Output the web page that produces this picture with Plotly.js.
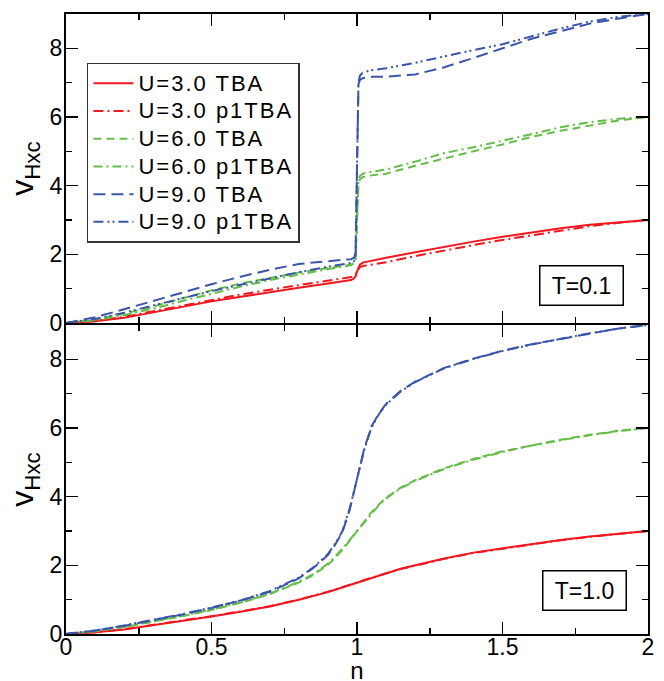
<!DOCTYPE html>
<html>
<head>
<meta charset="utf-8">
<script src="https://cdn.plot.ly/plotly-3.0.1.min.js"></script>
<style>
html,body{margin:0;padding:0;background:#fff;}
.legendtext{font-size:22px !important; letter-spacing:2px;}
.g-xtitle text{transform:translateY(3px);}
</style>
</head>
<body>
<div id="chart" style="width:664px;height:681px;"></div>
<script>
// ---- T = 0.1 (top panel) ----
const nTop = [0,0.1,0.2,0.3,0.4,0.5,0.6,0.7,0.8,0.9,0.95,0.98,0.99,0.995,1.0,1.005,1.01,1.02,1.05,1.1,1.2,1.3,1.4,1.5,1.6,1.7,1.8,1.9,2.0];
const top_U3_TBA   = [0,0.05,0.15,0.3,0.47,0.63,0.77,0.9,1.03,1.15,1.2,1.25,1.3,1.36,1.5,1.63,1.7,1.76,1.82,1.9,2.06,2.22,2.37,2.51,2.64,2.76,2.86,2.94,3.0];
const top_U3_p1TBA = [0,0.06,0.18,0.34,0.52,0.68,0.83,0.97,1.1,1.24,1.3,1.34,1.37,1.41,1.5,1.59,1.63,1.66,1.7,1.77,1.95,2.12,2.27,2.42,2.56,2.7,2.82,2.92,3.0];
const top_U6_TBA   = [0,0.1,0.27,0.48,0.72,0.95,1.15,1.32,1.47,1.6,1.66,1.7,1.75,1.85,3.0,4.05,4.18,4.25,4.3,4.35,4.58,4.8,5.0,5.2,5.42,5.6,5.76,5.9,6.0];
const top_U6_p1TBA = [0,0.08,0.23,0.42,0.64,0.86,1.06,1.25,1.42,1.57,1.64,1.69,1.74,1.85,3.0,4.15,4.28,4.35,4.4,4.47,4.7,4.95,5.12,5.3,5.5,5.7,5.85,5.95,6.0];
const top_U9_TBA   = [0,0.17,0.4,0.65,0.9,1.13,1.35,1.55,1.72,1.81,1.84,1.86,1.9,2.05,4.5,6.95,7.08,7.13,7.17,7.17,7.24,7.45,7.72,8.0,8.28,8.5,8.72,8.87,9.0];
const top_U9_p1TBA = [0,0.12,0.3,0.5,0.72,0.93,1.12,1.3,1.48,1.64,1.7,1.75,1.8,1.95,4.5,7.0,7.2,7.3,7.36,7.42,7.58,7.77,7.95,8.12,8.35,8.58,8.78,8.92,9.0];

// ---- T = 1.0 (bottom panel) ----
const nBot = [0,0.1,0.2,0.3,0.4,0.5,0.6,0.7,0.8,0.85,0.9,0.925,0.95,0.975,1.0,1.025,1.05,1.075,1.1,1.15,1.2,1.3,1.4,1.5,1.6,1.7,1.8,1.9,2.0];
const bot_U3_TBA   = [0,0.05,0.13,0.25,0.38,0.51,0.65,0.8,1.0,1.1,1.22,1.29,1.36,1.43,1.5,1.57,1.64,1.71,1.78,1.9,2.0,2.2,2.37,2.5,2.62,2.74,2.84,2.93,3.0];
const bot_U3_p1TBA = [0,0.05,0.14,0.26,0.39,0.52,0.66,0.81,1.0,1.11,1.23,1.3,1.37,1.44,1.5,1.56,1.63,1.7,1.77,1.89,1.99,2.19,2.36,2.49,2.61,2.73,2.83,2.92,3.0];
const bot_U6_TBA   = [0,0.08,0.2,0.35,0.52,0.7,0.91,1.16,1.5,1.72,2.02,2.22,2.45,2.72,3.0,3.28,3.55,3.77,3.97,4.26,4.48,4.83,5.1,5.32,5.5,5.66,5.8,5.92,6.0];
const bot_U6_p1TBA = [0,0.08,0.21,0.36,0.53,0.71,0.92,1.17,1.52,1.74,2.05,2.25,2.48,2.74,3.0,3.26,3.52,3.75,3.95,4.24,4.46,4.81,5.08,5.3,5.49,5.65,5.79,5.91,6.0];
const bot_U9_TBA   = [0,0.1,0.24,0.4,0.57,0.76,0.97,1.23,1.62,1.92,2.3,2.6,2.97,3.62,4.5,5.4,6.05,6.42,6.7,7.08,7.35,7.75,8.02,8.25,8.44,8.6,8.76,8.9,9.0];
const bot_U9_p1TBA = [0,0.1,0.25,0.41,0.58,0.77,0.98,1.25,1.64,1.94,2.33,2.63,3.0,3.66,4.5,5.37,6.02,6.4,6.68,7.06,7.34,7.74,8.01,8.24,8.43,8.6,8.76,8.9,9.0];

const seriesNames = ['U=3.0 TBA','U=3.0 p1TBA','U=6.0 TBA','U=6.0 p1TBA','U=9.0 TBA','U=9.0 p1TBA'];
const panelLabels = ['T=0.1','T=1.0'];

const RED = '#f2161e', GREEN = '#64bd46', BLUE = '#3a55aa';
const styles = [
  {color: RED,   dash: 'solid'},
  {color: RED,   dash: '10px,4px,2px,4px'},
  {color: GREEN, dash: '8px,5px'},
  {color: GREEN, dash: '9px,4px,2px,4px'},
  {color: BLUE,  dash: '12px,6px'},
  {color: BLUE,  dash: '10px,4px,2px,3px,2px,4px'}
];
const topData = [top_U3_TBA, top_U3_p1TBA, top_U6_TBA, top_U6_p1TBA, top_U9_TBA, top_U9_p1TBA];
const botData = [bot_U3_TBA, bot_U3_p1TBA, bot_U6_TBA, bot_U6_p1TBA, bot_U9_TBA, bot_U9_p1TBA];

const traces = [];
topData.forEach((ys, i) => {
  traces.push({x: nTop, y: ys, xaxis: 'x2', yaxis: 'y2', mode: 'lines', name: seriesNames[i],
    line: {color: styles[i].color, dash: styles[i].dash, width: 2}, showlegend: true});
});
botData.forEach((ys, i) => {
  traces.push({x: nBot, y: ys, xaxis: 'x', yaxis: 'y', mode: 'lines', name: seriesNames[i],
    line: {color: styles[i].color, dash: styles[i].dash, width: 2}, showlegend: false});
});

const FONT = 'Liberation Sans, Arial, Helvetica, sans-serif';
const axisCommon = {
  showline: true, linecolor: '#000', linewidth: 2, mirror: 'ticks',
  ticks: 'inside', ticklen: 12, tickwidth: 1.5, tickcolor: '#000',
  showgrid: false, zeroline: false,
  tickfont: {family: FONT, size: 23, color: '#000'}
};
const minorX = {tickvals: [0.25, 0.75, 1.25, 1.75], ticks: 'inside', ticklen: 6, tickwidth: 1.5, tickcolor: '#000'};
const minorY = {tickvals: [1, 3, 5, 7], ticks: 'inside', ticklen: 6, tickwidth: 1.5, tickcolor: '#000'};

const layout = {
  width: 664, height: 681,
  margin: {l: 66, r: 16, t: 14, b: 47},
  paper_bgcolor: '#fff', plot_bgcolor: '#fff',
  font: {family: FONT, color: '#000'},
  showlegend: true,
  legend: {
    x: 0.036, y: 0.921, xanchor: 'left', yanchor: 'top',
    bgcolor: '#fff', bordercolor: '#333', borderwidth: 1.5,
    font: {family: FONT, size: 19, color: '#000'},
    itemwidth: 40, tracegroupgap: 0
  },
  xaxis: Object.assign({}, axisCommon, {
    domain: [0, 1], anchor: 'y', range: [0, 2], tickvals: [0, 0.5, 1, 1.5, 2],
    ticktext: ['0', '0.5', '1', '1.5', '2'],
    minor: minorX, ticklabelstandoff: -9,
    title: {text: 'n', font: {family: FONT, size: 24}, standoff: 10}
  }),
  yaxis: Object.assign({}, axisCommon, {
    domain: [0, 0.4984], anchor: 'x', range: [0, 9], tickvals: [0, 2, 4, 6, 8],
    minor: minorY, ticklabelstandoff: -3,
    title: {text: 'v<sub>Hxc</sub>', font: {family: FONT, size: 32}, standoff: 6}
  }),
  xaxis2: Object.assign({}, axisCommon, {
    domain: [0, 1], anchor: 'y2', range: [0, 2], tickvals: [0, 0.5, 1, 1.5, 2],
    showticklabels: false, minor: minorX
  }),
  yaxis2: Object.assign({}, axisCommon, {
    domain: [0.5016, 1], anchor: 'x2', range: [0, 9], tickvals: [0, 2, 4, 6, 8],
    minor: minorY, ticklabelstandoff: -3,
    title: {text: 'v<sub>Hxc</sub>', font: {family: FONT, size: 32}, standoff: 6}
  }),
  annotations: [
    {xref: 'x2', yref: 'y2', x: 1.773, y: 1.09, text: panelLabels[0], showarrow: false,
     font: {family: FONT, size: 23, color: '#000'}, bordercolor: '#000', borderwidth: 1.5,
     borderpad: 3, bgcolor: '#fff', width: 76, height: 32},
    {xref: 'x', yref: 'y', x: 1.782, y: 1.28, text: panelLabels[1], showarrow: false,
     font: {family: FONT, size: 23, color: '#000'}, bordercolor: '#000', borderwidth: 1.5,
     borderpad: 3, bgcolor: '#fff', width: 76, height: 32}
  ]
};

Plotly.newPlot('chart', traces, layout, {displayModeBar: false, staticPlot: true});
</script>
</body>
</html>
